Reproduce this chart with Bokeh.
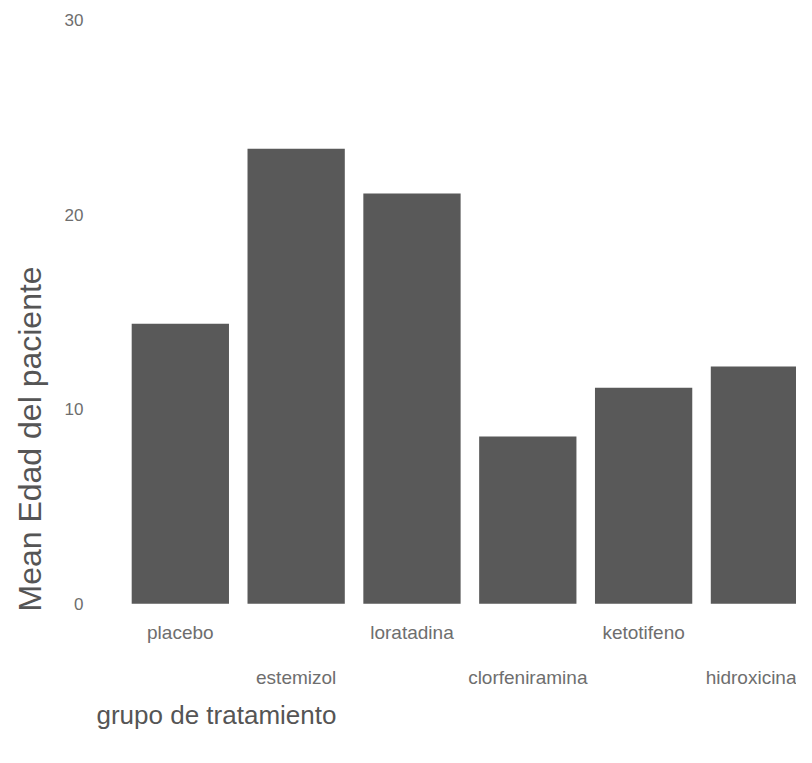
from bokeh.plotting import figure
from bokeh.models import Range1d, LinearAxis, FixedTicker, Title
from bokeh.embed import file_html
from bokeh.resources import INLINE

# Data
categories = ["placebo", "estemizol", "loratadina", "clorfeniramina", "ketotifeno", "hidroxicina"]
mean_edad = [14.4, 23.4, 21.1, 8.6, 11.1, 12.2]
y_ticks = [0, 10, 20, 30]
y_tick_labels = ["0", "10", "20", "30"]

xpos = list(range(len(categories)))

FONT = "Liberation Sans"

p = figure(width=796, height=747, output_backend="svg", toolbar_location=None,
           x_range=Range1d(-0.603, 5.32), y_range=Range1d(-0.4, 30.3),
           x_axis_location=None, y_axis_location=None,
           min_border_left=109, min_border_right=0, min_border_top=14,
           min_border_bottom=136)
p.outline_line_color = None
p.xgrid.grid_line_color = None
p.ygrid.grid_line_color = None
p.background_fill_color = "white"
p.border_fill_color = "white"

p.vbar(x=xpos, top=mean_edad, bottom=0, width=0.84, fill_color="#595959",
       line_color=None)

# y axis
yax = LinearAxis(ticker=FixedTicker(ticks=y_ticks),
                 major_label_overrides={t: l for t, l in zip(y_ticks, y_tick_labels)})
yax.axis_line_color = None
yax.major_tick_line_color = None
yax.minor_tick_line_color = None
yax.major_label_standoff = 21
yax.major_label_text_font = FONT
yax.major_label_text_font_size = "17px"
yax.major_label_text_color = "#6e6e6e"
p.add_layout(yax, "left")

# x axes (staggered labels)
def make_xaxis(ticks, standoff):
    ax = LinearAxis(ticker=FixedTicker(ticks=ticks),
                    major_label_overrides={i: categories[i] for i in ticks})
    ax.axis_line_color = None
    ax.major_tick_line_color = None
    ax.minor_tick_line_color = None
    ax.major_label_standoff = standoff
    ax.major_label_text_font = FONT
    ax.major_label_text_font_size = "19px"
    ax.major_label_text_color = "#6e6e6e"
    return ax

p.add_layout(make_xaxis([i for i in xpos if i % 2 == 0], 4), "below")
p.add_layout(make_xaxis([i for i in xpos if i % 2 == 1], 15), "below")

xt = Title(text="grupo de tratamiento", align="left", offset=-14,
           text_font=FONT, text_font_size="26px", text_font_style="normal",
           text_color="#555555", standoff=14)
p.add_layout(xt, "below")

yt = Title(text="Mean Edad del paciente", align="left", offset=0,
           text_font=FONT, text_font_size="32px", text_font_style="normal",
           text_color="#555555", standoff=23, vertical_align="top")
p.add_layout(yt, "left")

open("out.html", "w").write(file_html(p, INLINE))
